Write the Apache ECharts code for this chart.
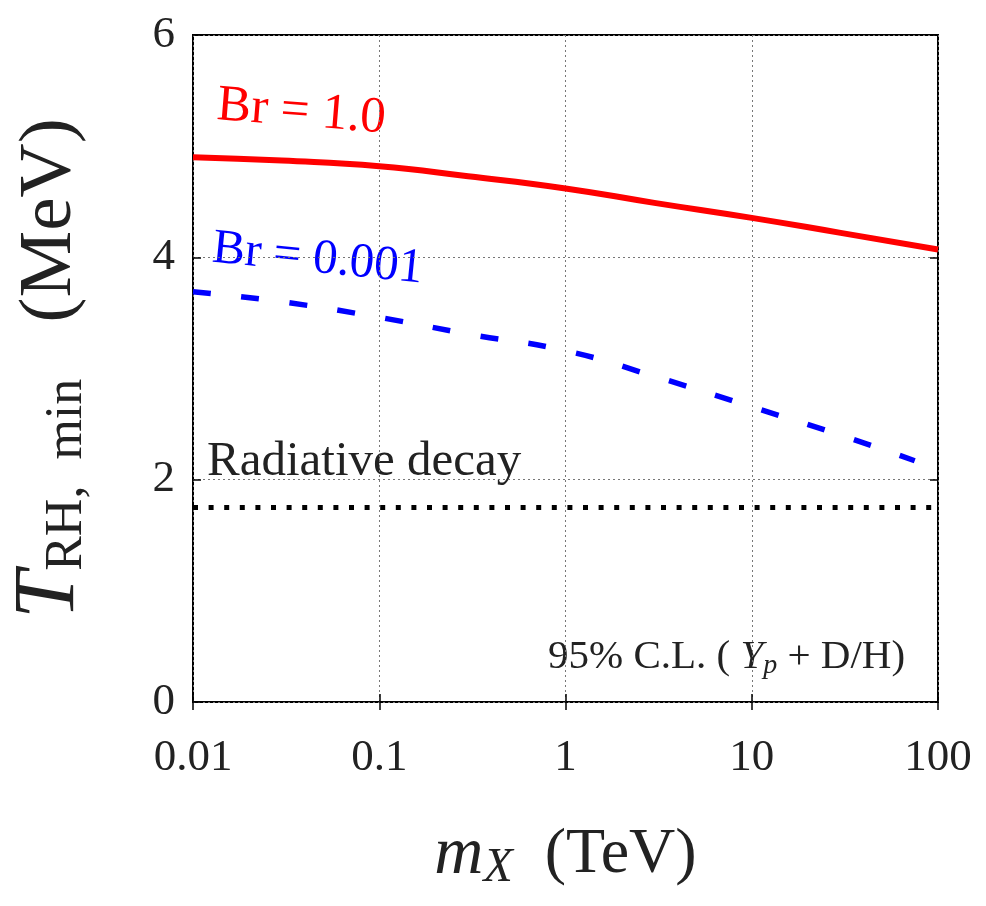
<!DOCTYPE html>
<html>
<head>
<meta charset="utf-8">
<script src="https://cdn.jsdelivr.net/npm/echarts@6/dist/echarts.min.js"></script>
<style>
  html, body { margin: 0; padding: 0; background: #fff; }
  #chart { width: 986px; height: 906px; }
</style>
</head>
<body>
<div id="chart"></div>
<script>
// values
var massTeV = [0.01, 0.03, 0.1, 0.3, 1, 3, 10, 30, 100];
var brOne = [4.90, 4.87, 4.82, 4.73, 4.62, 4.49, 4.355, 4.22, 4.07];
var massBlue = [0.01, 0.03, 0.1, 0.3, 1, 3, 10, 30, 75];
var brMilli = [3.69, 3.60, 3.46, 3.31, 3.16, 2.93, 2.655, 2.40, 2.17];
var massRad = [0.01, 100];
var radDecay = [1.75, 1.75];

function pairs(xs, ys) {
    return xs.map(function (x, i) { return [x, ys[i]]; });
}

var serif = '"Liberation Serif", "DejaVu Serif", serif';
var ink = '#222';

var myChart = echarts.init(document.getElementById('chart'));
var option = {
    backgroundColor: '#fff',
    animation: false,
    grid: {
        left: 193, right: 48, top: 35, bottom: 204,
        containLabel: false, outerBoundsMode: 'none',
        show: true, borderColor: '#000', borderWidth: 2, backgroundColor: 'transparent'
    },
    xAxis: [{
        type: 'log', logBase: 10, min: 0.01, max: 100,
        axisLine: { show: false },
        axisTick: { inside: true, length: 8, lineStyle: { color: '#000', width: 1.5 } },
        minorTick: { show: false },
        splitLine: { show: true, lineStyle: { color: '#777', type: [2, 3], width: 1 } },
        axisLabel: {
            margin: 34, fontFamily: serif, fontSize: 45, color: ink,
            formatter: function (v) { return String(+Number(v).toPrecision(3)); }
        },
        name: '{m|m}{s|X}{p|  (TeV)}',
        nameLocation: 'middle', nameGap: 116,
        nameTextStyle: {
            rich: {
                m: { fontFamily: serif, fontStyle: 'italic', fontSize: 68, color: ink },
                s: { fontFamily: serif, fontStyle: 'italic', fontSize: 48, color: ink, verticalAlign: 'bottom', padding: [26, 0, 0, 0] },
                p: { fontFamily: serif, fontSize: 64, color: ink }
            }
        }
    }, {
        type: 'log', logBase: 10, min: 0.01, max: 100, position: 'top',
        axisLine: { show: false },
        axisTick: { inside: true, length: 8, lineStyle: { color: '#000', width: 1.5 } },
        axisLabel: { show: false }, splitLine: { show: false }
    }],
    yAxis: [{
        type: 'value', min: 0, max: 6, interval: 2,
        axisLine: { show: false },
        axisTick: { show: true, inside: true, length: 8, lineStyle: { color: '#000', width: 1.5 } },
        splitLine: { show: true, lineStyle: { color: '#777', type: [2, 3], width: 1 } },
        axisLabel: { margin: 18, fontFamily: serif, fontSize: 45, color: ink },
        name: '{t|T}{s|RH,  min}{p|   (MeV)}',
        nameLocation: 'middle', nameGap: 100, nameRotate: 90,
        nameTextStyle: {
            rich: {
                t: { fontFamily: serif, fontStyle: 'italic', fontSize: 86, color: ink },
                s: { fontFamily: serif, fontSize: 52, color: ink, verticalAlign: 'bottom', padding: [30, 0, 0, 0] },
                p: { fontFamily: serif, fontSize: 75, color: ink }
            }
        }
    }, {
        type: 'value', min: 0, max: 6, interval: 2, position: 'right',
        axisLine: { show: false },
        axisTick: { show: true, inside: true, length: 8, lineStyle: { color: '#000', width: 1.5 } },
        axisLabel: { show: false }, splitLine: { show: false }
    }],
    series: [{
        name: 'Br = 1.0', type: 'line', smooth: true, showSymbol: false,
        data: pairs(massTeV, brOne),
        lineStyle: { color: '#ff0000', width: 6 }
    }, {
        name: 'Br = 0.001', type: 'line', smooth: true, showSymbol: false,
        data: pairs(massBlue, brMilli),
        lineStyle: { color: '#0000ff', width: 5.5, type: [18, 30.5], cap: 'butt' }
    }, {
        name: 'Radiative decay', type: 'line', showSymbol: false,
        data: pairs(massRad, radDecay),
        lineStyle: { color: '#000', width: 5, type: [5, 10.6], cap: 'butt' }
    }],
    graphic: [
        {
            type: 'text', x: 215, y: 131, rotation: -0.08,
            style: { text: 'Br = 1.0', font: '51px ' + serif, fill: '#ff0000', verticalAlign: 'bottom' }
        },
        {
            type: 'text', x: 210, y: 273, rotation: -0.1,
            style: { text: 'Br = 0.001', font: '49px ' + serif, fill: '#0000ff', verticalAlign: 'bottom' }
        },
        {
            type: 'text', x: 207, y: 487,
            style: { text: 'Radiative decay', font: '49px ' + serif, fill: ink, verticalAlign: 'bottom' }
        },
        {
            type: 'text', x: 548, y: 680,
            style: {
                text: '{a|95% C.L. ( }{y|Y}{p|p}{a| + D/H)}',
                verticalAlign: 'bottom',
                rich: {
                    a: { fontFamily: serif, fontSize: 41, fill: ink },
                    y: { fontFamily: serif, fontStyle: 'italic', fontSize: 41, fill: ink },
                    p: { fontFamily: serif, fontStyle: 'italic', fontSize: 28, fill: ink, padding: [18, 0, 0, 0] }
                }
            }
        }
    ]
};
myChart.setOption(option);
</script>
</body>
</html>
